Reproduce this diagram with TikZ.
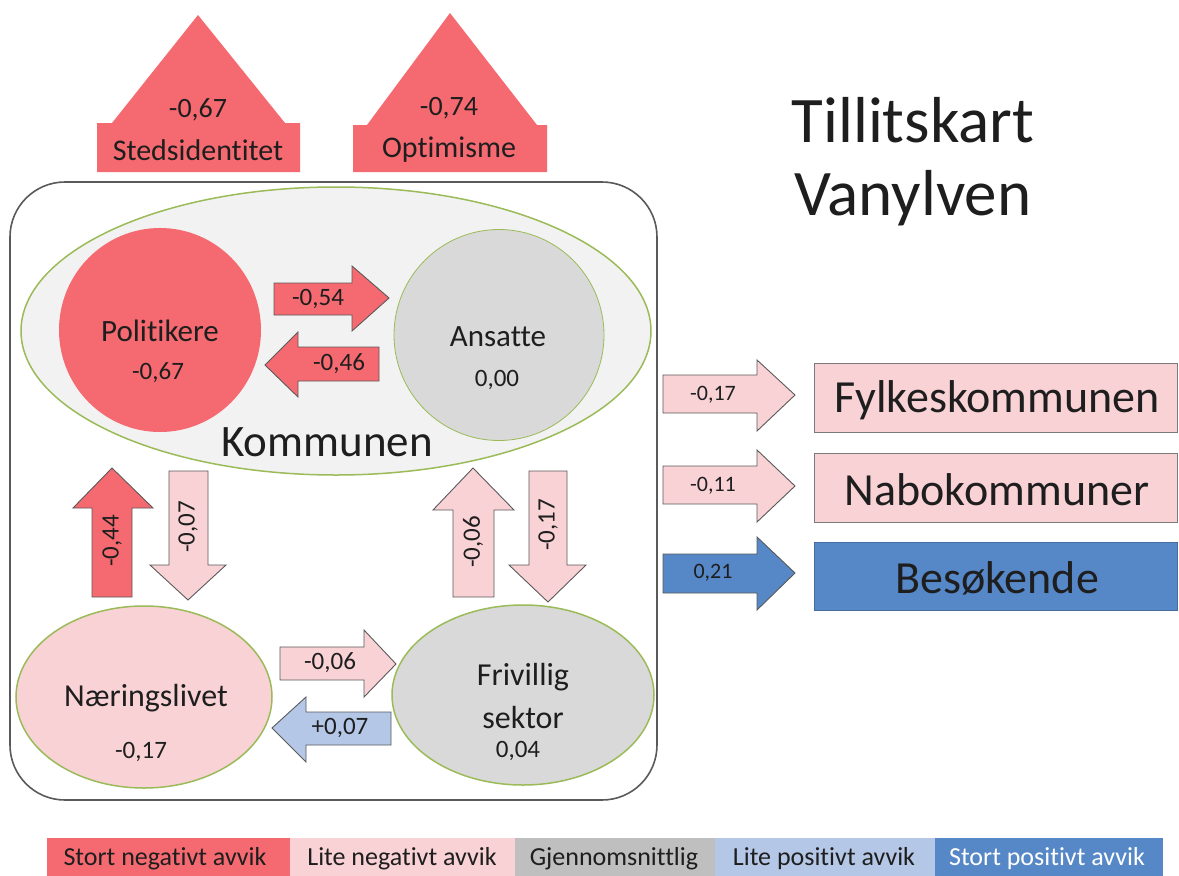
\documentclass[tikz,border=0pt]{standalone}
\usepackage{fontspec}
\setmainfont{Carlito}[Ligatures={NoCommon}]
\usetikzlibrary{shapes.geometric}
\definecolor{cRed}{RGB}{245,106,112}
\definecolor{cPink}{RGB}{249,210,214}
\definecolor{cGray}{RGB}{217,217,217}
\definecolor{cLBlue}{RGB}{180,199,231}
\definecolor{cBlue}{RGB}{86,135,198}
\definecolor{cLegGray}{RGB}{191,191,191}
\definecolor{cGreen}{RGB}{155,187,89}
\definecolor{cLight}{RGB}{242,242,242}
\definecolor{cText}{RGB}{30,30,30}
\definecolor{cEdge}{RGB}{90,90,90}
\tikzset{
  fs/.style={font=\fontsize{#1}{#1}\selectfont},
  txt/.style={inner sep=0pt, text=cText},
  blk/.style={draw=cEdge, line width=0.9pt, line join=miter},
  ell/.style={ellipse, inner sep=0pt},
  grp/.style={draw=cGreen, line width=1.5pt},
  bx/.style={draw=cEdge!80, line width=1pt},
  leg/.style={fs=26, inner sep=0pt, text=cText}
}
\begin{document}
\begin{tikzpicture}[x=1pt,y=-1pt]
\useasboundingbox (0,0) rectangle (1179,876);
\fill[white] (0,0) rectangle (1179,876);

% top house shapes
\fill[cRed] (97,172) -- (300,172) -- (300,123) -- (285,123) -- (198,15) -- (112,123) -- (97,123) -- cycle;
\node[txt,fs=28] (stv) at (198,110) {-0,67};
\node[txt,fs=30] (stl) at (198,150) {Stedsidentitet};
\fill[cRed] (353,172) -- (547,172) -- (547,125) -- (537,125) -- (450,13) -- (367,125) -- (353,125) -- cycle;
\node[txt,fs=28] (opv) at (449,108) {-0,74};
\node[txt,fs=30] (opl) at (449,150) {Optimisme};

% title
\node[txt,fs=65] (t1) at (913,120) {Tillitskart};
\node[txt,fs=65] (t2) at (913,198) {Vanylven};

% outer frame
\draw[cEdge, line width=1.6pt, rounded corners=55pt] (10,182) rectangle (657,800);

% Kommunen
\node[ell, grp, fill=cLight, minimum width=630pt, minimum height=288pt] (kom) at (336,331) {};
\node[ell, fill=cRed, minimum width=202pt, minimum height=204pt] (pol) at (160,330) {};
\node[ell, fill=cGray, draw=cGreen, line width=0.8pt, minimum width=210pt, minimum height=211pt] (ans) at (499,335) {};
\node[txt,fs=31] (poll) at (160,331) {Politikere};
\node[txt,fs=25] (polv) at (158,373) {-0,67};
\node[txt,fs=31] (ansl) at (498,337) {Ansatte};
\node[txt,fs=25] (ansv) at (497,380) {0,00};
\node[txt,fs=45] (koml) at (327,442) {Kommunen};

% lower ellipses
\node[ell, grp, fill=cPink, minimum width=256pt, minimum height=182pt] (nar) at (144,697) {};
\node[ell, grp, fill=cGray, minimum width=262pt, minimum height=180pt] (fri) at (523,695) {};
\node[txt,fs=32] (narl) at (146,698) {Næringslivet};
\node[txt,fs=25] (narv) at (141,752) {-0,17};
\node[txt,fs=32] (fril1) at (523,677) {Frivillig};
\node[txt,fs=32] (fril2) at (523,717) {sektor};
\node[txt,fs=25] (friv) at (518,751) {0,04};

% arrows inside Kommunen
\filldraw[blk, fill=cRed] (274,283) -- (352,283) -- (352,266) -- (389,298) -- (352,331) -- (352,315) -- (274,315) -- cycle;
\node[txt,fs=25] (a1) at (318,299) {-0,54};
\filldraw[blk, fill=cRed] (379,347) -- (298,347) -- (298,332) -- (265,365) -- (298,397) -- (298,381) -- (379,381) -- cycle;
\node[txt,fs=25] (a2) at (339,364) {-0,46};

% vertical arrows
\filldraw[blk, fill=cRed] (92,597) -- (92,508) -- (73,508) -- (112,468) -- (153,508) -- (132,508) -- (132,597) -- cycle;
\node[txt,fs=25,rotate=90] (a3) at (112,541) {-0,44};
\filldraw[blk, fill=cPink] (169,471) -- (169,565) -- (150,565) -- (188,600) -- (226,565) -- (208,565) -- (208,471) -- cycle;
\node[txt,fs=25,rotate=90] (a4) at (188,527) {-0,07};
\filldraw[blk, fill=cPink] (453,597) -- (453,510) -- (433,510) -- (473,468) -- (514,510) -- (494,510) -- (494,597) -- cycle;
\node[txt,fs=25,rotate=90] (a5) at (473,542) {-0,06};
\filldraw[blk, fill=cPink] (529,471) -- (529,565) -- (509,565) -- (548,602) -- (586,565) -- (567,565) -- (567,471) -- cycle;
\node[txt,fs=25,rotate=90] (a6) at (548,525) {-0,17};

% lower horizontal arrows
\filldraw[blk, fill=cPink] (280,647) -- (364,647) -- (364,630) -- (396,664) -- (364,697) -- (364,680) -- (280,680) -- cycle;
\node[txt,fs=25] (a7) at (330,663) {-0,06};
\filldraw[blk, fill=cLBlue] (391,712) -- (306,712) -- (306,697) -- (272,728) -- (306,762) -- (306,745) -- (391,745) -- cycle;
\node[txt,fs=25] (a8) at (340,728) {+0,07};

% right side arrows
\filldraw[blk, fill=cPink] (663,375) -- (757,375) -- (757,360) -- (795,395) -- (757,431) -- (757,413) -- (663,413) -- cycle;
\node[txt,fs=22] (r1) at (713,395) {-0,17};
\filldraw[blk, fill=cPink] (663,466) -- (757,466) -- (757,450) -- (795,486) -- (757,522) -- (757,504) -- (663,504) -- cycle;
\node[txt,fs=22] (r2) at (713,486) {-0,11};
\filldraw[blk, fill=cBlue] (663,554) -- (757,554) -- (757,537) -- (795,573) -- (757,610) -- (757,593) -- (663,593) -- cycle;
\node[txt,fs=22] (r3) at (713,573) {0,21};

% right side boxes
\filldraw[bx, fill=cPink] (814,363) rectangle (1177,432);
\node[txt,fs=46] (b1) at (997,400) {Fylkeskommunen};
\filldraw[bx, fill=cPink] (814,453) rectangle (1177,522);
\node[txt,fs=46] (b2) at (997,490) {Nabokommuner};
\filldraw[bx, draw=cBlue!80!black, fill=cBlue] (814,542) rectangle (1177,610);
\node[txt,fs=46] (b3) at (997,578) {Besøkende};

% legend
\fill[cRed] (47,838) rectangle (290,876);
\fill[cPink] (290,838) rectangle (515,876);
\fill[cLegGray] (515,838) rectangle (715,876);
\fill[cLBlue] (715,838) rectangle (935,876);
\fill[cBlue] (935,838) rectangle (1163,876);
\node[leg] (l1) at (165,859) {Stort negativt avvik};
\node[leg] (l2) at (402,859) {Lite negativt avvik};
\node[leg] (l3) at (614,859) {Gjennomsnittlig};
\node[leg] (l4) at (824,859) {Lite positivt avvik};
\node[leg, text=white] (l5) at (1047,859) {Stort positivt avvik};
\end{tikzpicture}
\end{document}
